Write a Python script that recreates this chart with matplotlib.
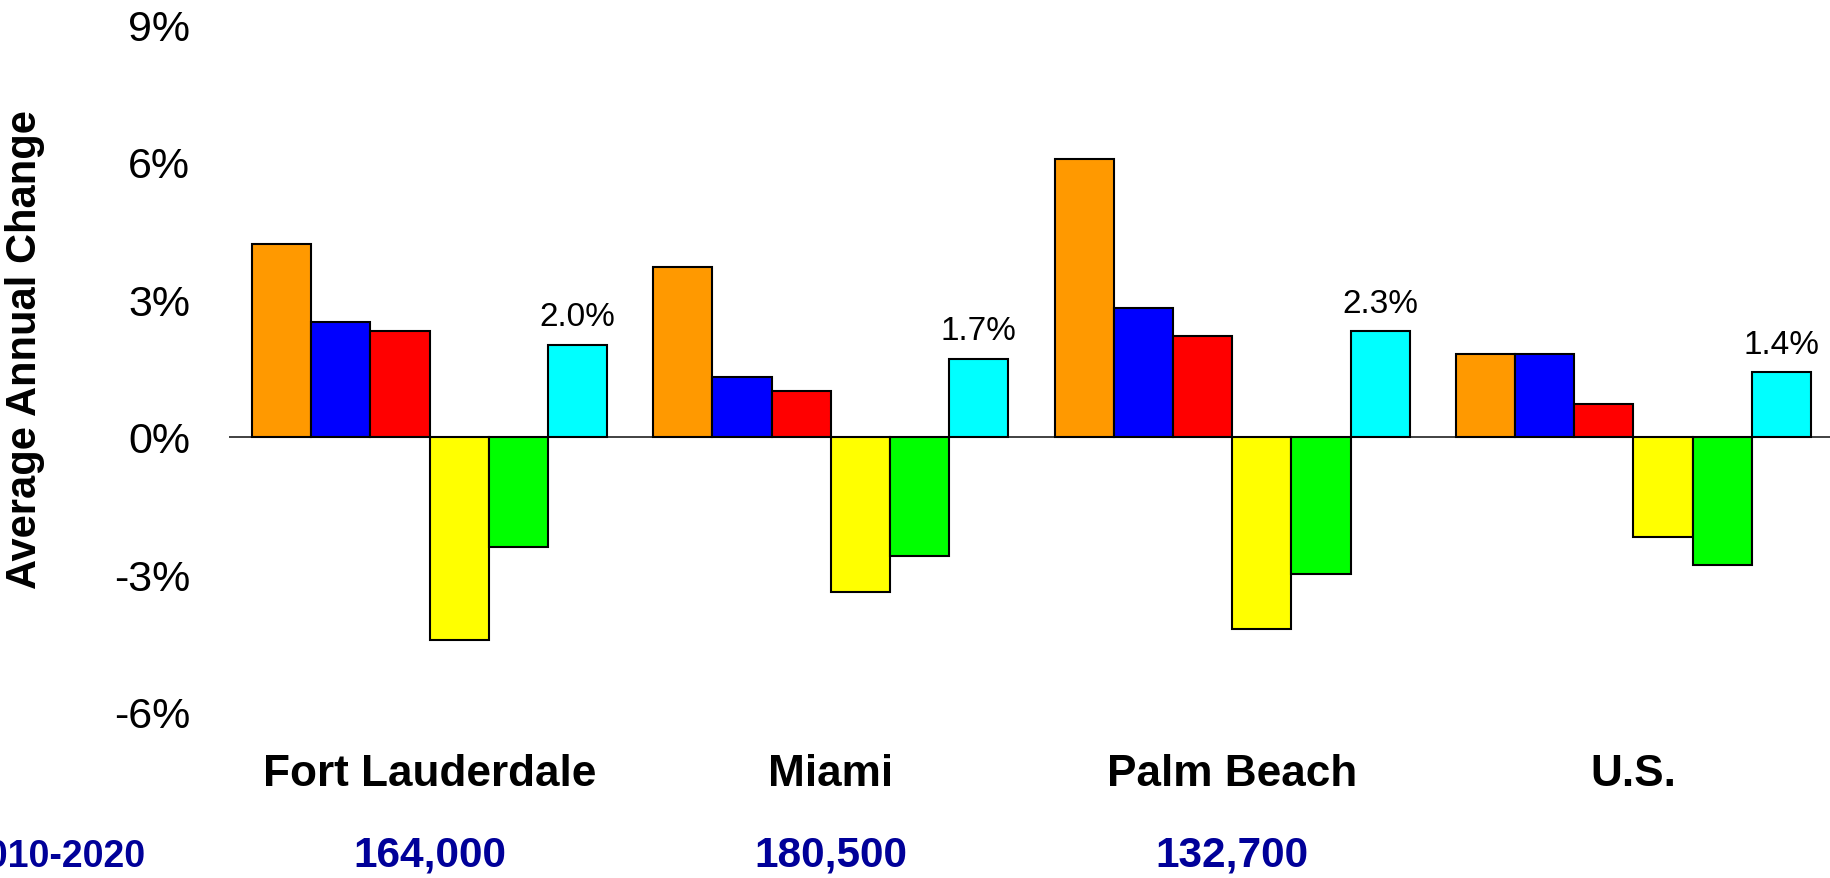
import numpy as np
import matplotlib.pyplot as plt

plt.rcParams["font.family"] = ["Liberation Sans", "DejaVu Sans"]

# ---------------------------------------------------------------------------
# Data: average annual change (%) by area, six series per area
# ---------------------------------------------------------------------------
areas = ["Fort Lauderdale", "Miami", "Palm Beach", "U.S."]
totals = ["164,000", "180,500", "132,700", ""]

s_orange = [4.2, 3.7, 6.05, 1.8]
s_blue   = [2.5, 1.3, 2.8, 1.8]
s_red    = [2.3, 1.0, 2.2, 0.7]
s_yellow = [-4.45, -3.4, -4.2, -2.2]
s_green  = [-2.4, -2.6, -3.0, -2.8]
s_cyan   = [2.0, 1.7, 2.3, 1.4]

series = [s_orange, s_blue, s_red, s_yellow, s_green, s_cyan]
colors = ["#FF9900", "#0000FF", "#FF0000", "#FFFF00", "#00FF00", "#00FFFF"]

yticks = [-6, -3, 0, 3, 6, 9]

# ---------------------------------------------------------------------------
# Figure
# ---------------------------------------------------------------------------
fig = plt.figure(figsize=(18.31, 8.79), dpi=100)
ax = fig.add_axes([0.125, 0.1894, 0.8767, 0.7821])

x = np.arange(len(areas))
n = len(series)
w = 0.885 / n
for k, (vals, c) in enumerate(zip(series, colors)):
    pos = x - 0.885 / 2 + w * (k + 0.5)
    ax.bar(pos, vals, width=w, color=c, edgecolor="black", linewidth=1.5,
           zorder=3)

# labels over the last series
cyan_pos = x - 0.885 / 2 + w * (n - 0.5)
for xp, v in zip(cyan_pos, s_cyan):
    ax.annotate(f"{v:.1f}%", (xp, v), xytext=(0, 14), textcoords="offset points",
                ha="center", va="baseline", fontsize=24)

ax.axhline(0, color="#333333", linewidth=1.3, zorder=2)

ax.set_xlim(-0.5, len(areas) - 0.5)
ax.set_ylim(-6, 9)
ax.set_yticks(yticks)
ax.set_yticklabels([f"{t}%" for t in yticks], fontsize=31)
ax.tick_params(axis="y", length=0, pad=28)
ax.set_xticks([])
for sp in ax.spines.values():
    sp.set_visible(False)

# category names and totals under the plot
for xi, name, tot in zip(x, areas, totals):
    ax.text(xi, -7.36, name, ha="center", va="center", fontsize=31.8,
            fontweight="bold")
    if tot:
        ax.text(xi, -9.37, tot, ha="center", va="baseline", fontsize=30.5,
                fontweight="bold", color="#000099")
ax.text(-0.7066, -9.37, "2010-2020", ha="right", va="baseline", fontsize=27,
        fontweight="bold", color="#000099")

fig.text(0.0137, 0.6018, "Average Annual Change", rotation=90, ha="center",
         va="center", fontsize=30, fontweight="bold")

fig.savefig("out.png", dpi=100)
